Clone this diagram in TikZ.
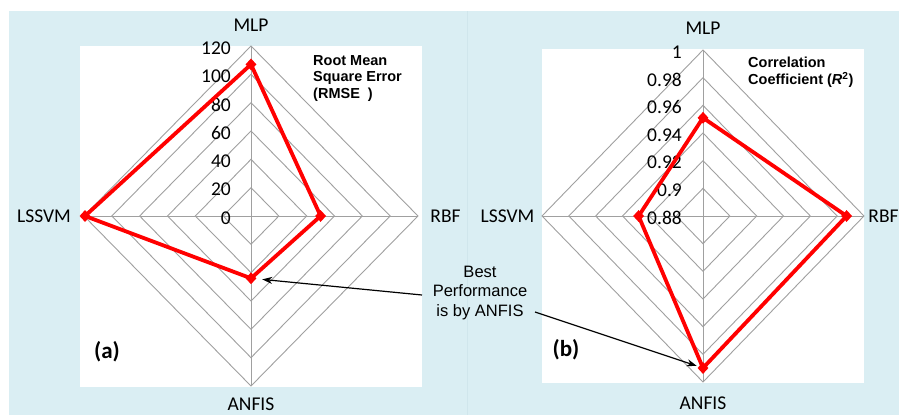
\documentclass[tikz,border=0pt]{standalone}
\usepackage{fontspec}
\setmainfont{Carlito}
\newfontfamily\arialf{Liberation Sans}
\usetikzlibrary{shapes.geometric,arrows.meta}
\definecolor{bgblue}{RGB}{218,238,243}
\definecolor{divline}{RGB}{208,230,236}
\definecolor{gridgray}{RGB}{160,160,160}
\begin{document}
\begin{tikzpicture}[x=1pt,y=-1pt,
  grid/.style={draw=gridgray, line width=0.9pt},
  series/.style={draw=red, line width=3.8pt, line join=round},
  datapt/.style={diamond, fill=red, inner sep=0pt, minimum width=11pt, minimum height=12pt},
  axlabel/.style={font=\fontsize{19.5}{20}\selectfont, inner sep=0pt},
  tick/.style={font=\fontsize{19.5}{20}\selectfont, anchor=east, inner sep=0pt},
  charttitle/.style={font=\arialf\bfseries\fontsize{14.5}{16.7}\selectfont, align=left, anchor=north west, inner sep=0pt},
  note/.style={font=\arialf\fontsize{16.5}{19.5}\selectfont, align=center, inner sep=0pt},
  panel/.style={font=\bfseries\fontsize{23}{24}\selectfont, inner sep=0pt},
  pointer/.style={-{Stealth[length=10pt,width=7pt]}, line width=1.2pt}]

\useasboundingbox (0,0) rectangle (899,415);
\fill[white] (0,0) rectangle (899,415);
\fill[bgblue] (9,11) rectangle (899,415);
\draw[divline, line width=0.8pt] (467,11) -- (467,415);
\fill[white] (80,46) rectangle (422,387);
\fill[white] (542,49) rectangle (864,383);

% ---------- left chart grid ----------
\foreach \k in {1,...,6}{
  \draw[grid] (251,{216-\k*170/6}) -- ({251+\k*167/6},216) -- (251,{216+\k*170/6}) -- ({251-\k*167/6},216) -- cycle;
}
\draw[grid] (251,46) -- (251,386);
\draw[grid] (84,216) -- (418,216);
\foreach \k in {0,...,6}{
  \pgfmathtruncatemacro{\v}{20*\k}
  \node[tick] at (231,{218-\k*170/6}) {\v};
}

% ---------- right chart grid ----------
\foreach \k in {1,...,6}{
  \draw[grid] (703,{216-\k*166/6}) -- ({703+\k*161/6},216) -- (703,{216+\k*166/6}) -- ({703-\k*161/6},216) -- cycle;
}
\draw[grid] (703,50) -- (703,382);
\draw[grid] (542,216) -- (864,216);
\node[tick] at (682,218) {0.88};
\node[tick] at (682,{218-1*166/6}) {0.9};
\node[tick] at (682,{218-2*166/6}) {0.92};
\node[tick] at (682,{218-3*166/6}) {0.94};
\node[tick] at (682,{218-4*166/6}) {0.96};
\node[tick] at (682,{218-5*166/6}) {0.98};
\node[tick] at (682,{218-6*166/6}) {1};

% ---------- axis labels ----------
\node[axlabel] (mlpA) at (251,25) {MLP};
\node[axlabel] (lssvmA) at (44,216) {LSSVM};
\node[axlabel] (rbfA) at (445.5,216) {RBF};
\node[axlabel] (anfisA) at (251,404) {ANFIS};
\node[axlabel] (mlpB) at (703,28) {MLP};
\node[axlabel] (lssvmB) at (507.5,216) {LSSVM};
\node[axlabel] (rbfB) at (883.5,216) {RBF};
\node[axlabel] (anfisB) at (703,403) {ANFIS};

% ---------- titles ----------
\node[charttitle] (tA) at (313,55) {Root Mean\\Square Error\\(RMSE\ \ )};
\node[charttitle] (tB) at (748,57) {Correlation\\Coefficient (\textit{R}\textsuperscript{2})};
\node[panel] (pa) at (107,352) {(a)};
\node[panel] (pb) at (566,350) {(b)};

% ---------- series (a) ----------
\node[datapt] (dmA) at (251,64.4) {};
\node[datapt] (drA) at (320.6,216) {};
\node[datapt] (daA) at (251,278.3) {};
\node[datapt] (dlA) at (85,216) {};
\draw[series] (dmA.center) -- (drA.center) -- (daA.center) -- (dlA.center) -- cycle;

% ---------- series (b) ----------
\node[datapt] (dmB) at (703,117.8) {};
\node[datapt] (drB) at (846.6,216) {};
\node[datapt] (daB) at (703,368) {};
\node[datapt] (dlB) at (638.6,216) {};
\draw[series] (dmB.center) -- (drB.center) -- (daB.center) -- (dlB.center) -- cycle;

% ---------- annotation ----------
\node[note] (best) at (480,293) {Best\\Performance\\is by ANFIS};
\coordinate (s1) at (422,295);
\coordinate (s2) at (535,312);
\draw[pointer, shorten >=6pt] (s1) -- (daA);
\draw[pointer, shorten >=2pt] (s2) -- (daB);
\end{tikzpicture}
\end{document}
